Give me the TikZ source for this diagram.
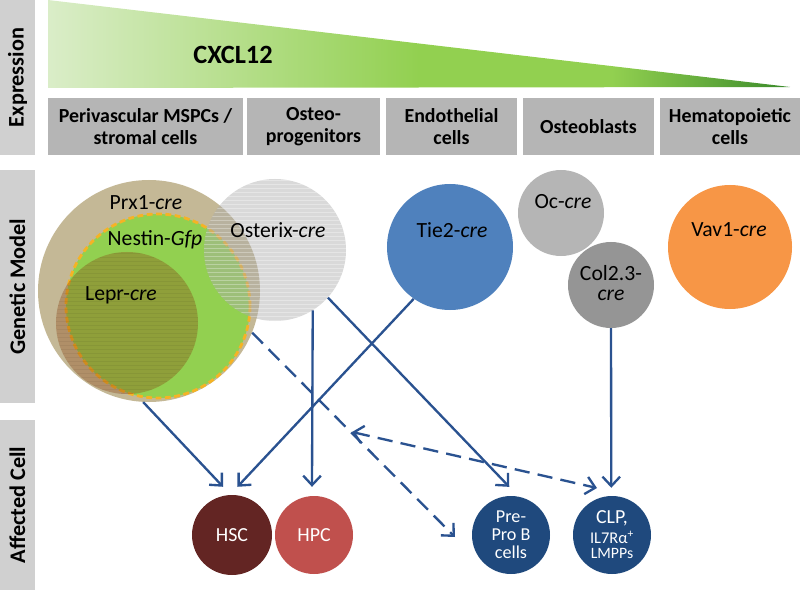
\documentclass[tikz,border=0pt]{standalone}
\usepackage{fontspec}
\setmainfont{Carlito}
\usetikzlibrary{arrows.meta}
\definecolor{barGray}{HTML}{D0D0D0}
\definecolor{hdrGray}{HTML}{B5B5B5}
\definecolor{gA}{HTML}{DAEDC8}
\definecolor{gB}{HTML}{92D050}
\definecolor{gC}{HTML}{3A8A2A}
\definecolor{prxC}{HTML}{C4B896}
\definecolor{nesC}{HTML}{92D050}
\definecolor{nesB}{HTML}{F5B325}
\definecolor{lepC}{HTML}{8B4513}
\definecolor{ostC}{HTML}{ABABAB}
\definecolor{tieC}{HTML}{4F81BD}
\definecolor{ocC}{HTML}{B5B5B5}
\definecolor{colC}{HTML}{959595}
\definecolor{vavC}{HTML}{F79646}
\definecolor{hscC}{HTML}{632523}
\definecolor{hpcC}{HTML}{C0504D}
\definecolor{bC}{HTML}{1F497D}
\definecolor{arrC}{HTML}{2A5290}
\pgfdeclarehorizontalshading{cxgrad}{100bp}{color(0bp)=(gA); color(25bp)=(gA); color(50bp)=(gB); color(63bp)=(gB); color(75bp)=(gC); color(100bp)=(gC)}
\begin{document}
\begin{tikzpicture}[x=0.03cm,y=-0.03cm,
  sidebar/.style={fill=barGray, rotate=90, inner sep=0pt, minimum height=10.5mm, font=\bfseries\fontsize{19}{22}\selectfont},
  hdr/.style={fill=hdrGray, inner sep=0pt, minimum height=17.1mm, align=center, font=\bfseries\fontsize{17}{19}\selectfont},
  cr/.style={circle, inner sep=0pt, minimum size=#1*0.6mm},
  clabel/.style={inner sep=0pt, font=\fontsize{18.5}{17}\selectfont, align=center},
  cell/.style={circle, inner sep=0pt, text=white, align=center},
  >={Straight Barb[length=8pt,width=15pt]},
  conn/.style={draw=arrC, line width=2pt, ->},
  dconn/.style={draw=arrC, line width=2pt, dash pattern=on 13pt off 7pt},
  ostripe/.style={white, opacity=0.3, line width=0.6pt},
  lstripe/.style={black, opacity=0.05, line width=0.6pt}
]
\useasboundingbox (0,0) rectangle (800,590);

% side bars
\node[sidebar, minimum width=46.5mm] (barE) at (17.5,77.5) {Expression};
\node[sidebar, minimum width=69.9mm] (barG) at (17.5,286.5) {Genetic Model};
\node[sidebar, minimum width=51mm] (barA) at (17.5,505) {Affected Cell};

% expression gradient
\shade[shading=cxgrad] (48,0) -- (790,87) -- (48,88) -- cycle;
\node[font=\bfseries\fontsize{22.5}{26}\selectfont, inner sep=0pt] (cx) at (233,55) {CXCL12};

% header boxes
\node[hdr, minimum width=58.5mm] (h1) at (145.5,126.5) {Perivascular MSPCs /\\stromal cells};
\node[hdr, minimum width=39.9mm] (h2) at (313.5,126.5) {Osteo-\\progenitors};
\node[hdr, minimum width=39.3mm] (h3) at (451.5,126.5) {Endothelial\\cells};
\node[hdr, minimum width=39.3mm] (h4) at (588.5,126.5) {Osteoblasts};
\node[hdr, minimum width=42mm] (h5) at (730,126.5) {Hematopoietic\\cells};

% genetic model circles
\node[cr=111, fill=prxC] (prx) at (149,291) {};
\node[cr=92, fill=nesC, draw=nesB, line width=2.4pt, dash pattern=on 5pt off 3pt] (nes) at (158,306) {};
\node[cr=71, fill=lepC, fill opacity=0.35] (lep) at (127,323) {};
\begin{scope}
  \clip (127,323) circle [radius=71];
  \foreach \yy in {253,257,...,395} \draw[lstripe] (50,\yy) -- (200,\yy);
\end{scope}
\node[cr=71, fill=ostC, fill opacity=0.45] (ost) at (275,250) {};
\begin{scope}
  \clip (275,250) circle [radius=71];
  \foreach \yy in {180,184,...,322} \draw[ostripe] (200,\yy) -- (350,\yy);
\end{scope}
\node[cr=63, fill=tieC] (tie) at (450,247) {};
\node[cr=43, fill=ocC] (oc) at (561,213) {};
\node[cr=43, fill=colC] (col) at (611,285) {};
\node[cr=62, fill=vavC] (vav) at (730,247) {};

\node[clabel] (prxT) at (146,203) {Prx1-\textit{cre}};
\node[clabel] (nesT) at (155,240) {Nestin-\textit{Gfp}};
\node[clabel] (lepT) at (121,295) {Lepr-\textit{cre}};
\node[clabel] (ostT) at (278,230) {Osterix-\textit{cre}};
\node[clabel] (tieT) at (452,230) {Tie2-\textit{cre}};
\node[clabel] (ocT) at (563,202) {Oc-\textit{cre}};
\node[clabel] (colT) at (611,283) {Col2.3-\\\textit{cre}};
\node[clabel] (vavT) at (729,230) {Vav1-\textit{cre}};

% affected cells
\node[cell, cr=40, fill=hscC, font=\fontsize{17}{19}\selectfont] (hsc) at (232,535) {HSC};
\node[cell, cr=39, fill=hpcC, font=\fontsize{17}{19}\selectfont] (hpc) at (314,535) {HPC};
\node[cell, cr=39, fill=bC, font=\fontsize{15.5}{15.5}\selectfont] (pre) at (511,535) {Pre-\\Pro B\\cells};
\node[cell, cr=39, fill=bC, font=\fontsize{17}{17}\selectfont] (clp) at (612,535) {CLP,\\{\fontsize{14}{13}\selectfont IL7Rα\textsuperscript{+}}\\[-4pt]{\fontsize{13.5}{13}\selectfont LMPPs}};

% free ends
\coordinate (preTip) at (455,537);
\coordinate (dL) at (352,432);
\coordinate (dR) at (597,488);

% connectors
\draw[conn, shorten >=3.3mm] (prx.267) -- (hsc.92);
\draw[conn, shorten >=3.3mm] (tie.235.5) -- (hsc.93.7);
\draw[conn, shorten >=2.7mm] (ost.302) -- (hpc.93);
\draw[conn, shorten >=4mm] (ost.318.4) -- (pre.79.4);
\draw[dconn, ->] (prx.338) -- (preTip);
\draw[dconn, <->] (dL) -- (dR);
\draw[conn, shorten >=2.4mm] (col.270) -- (clp.91);
\end{tikzpicture}
\end{document}
